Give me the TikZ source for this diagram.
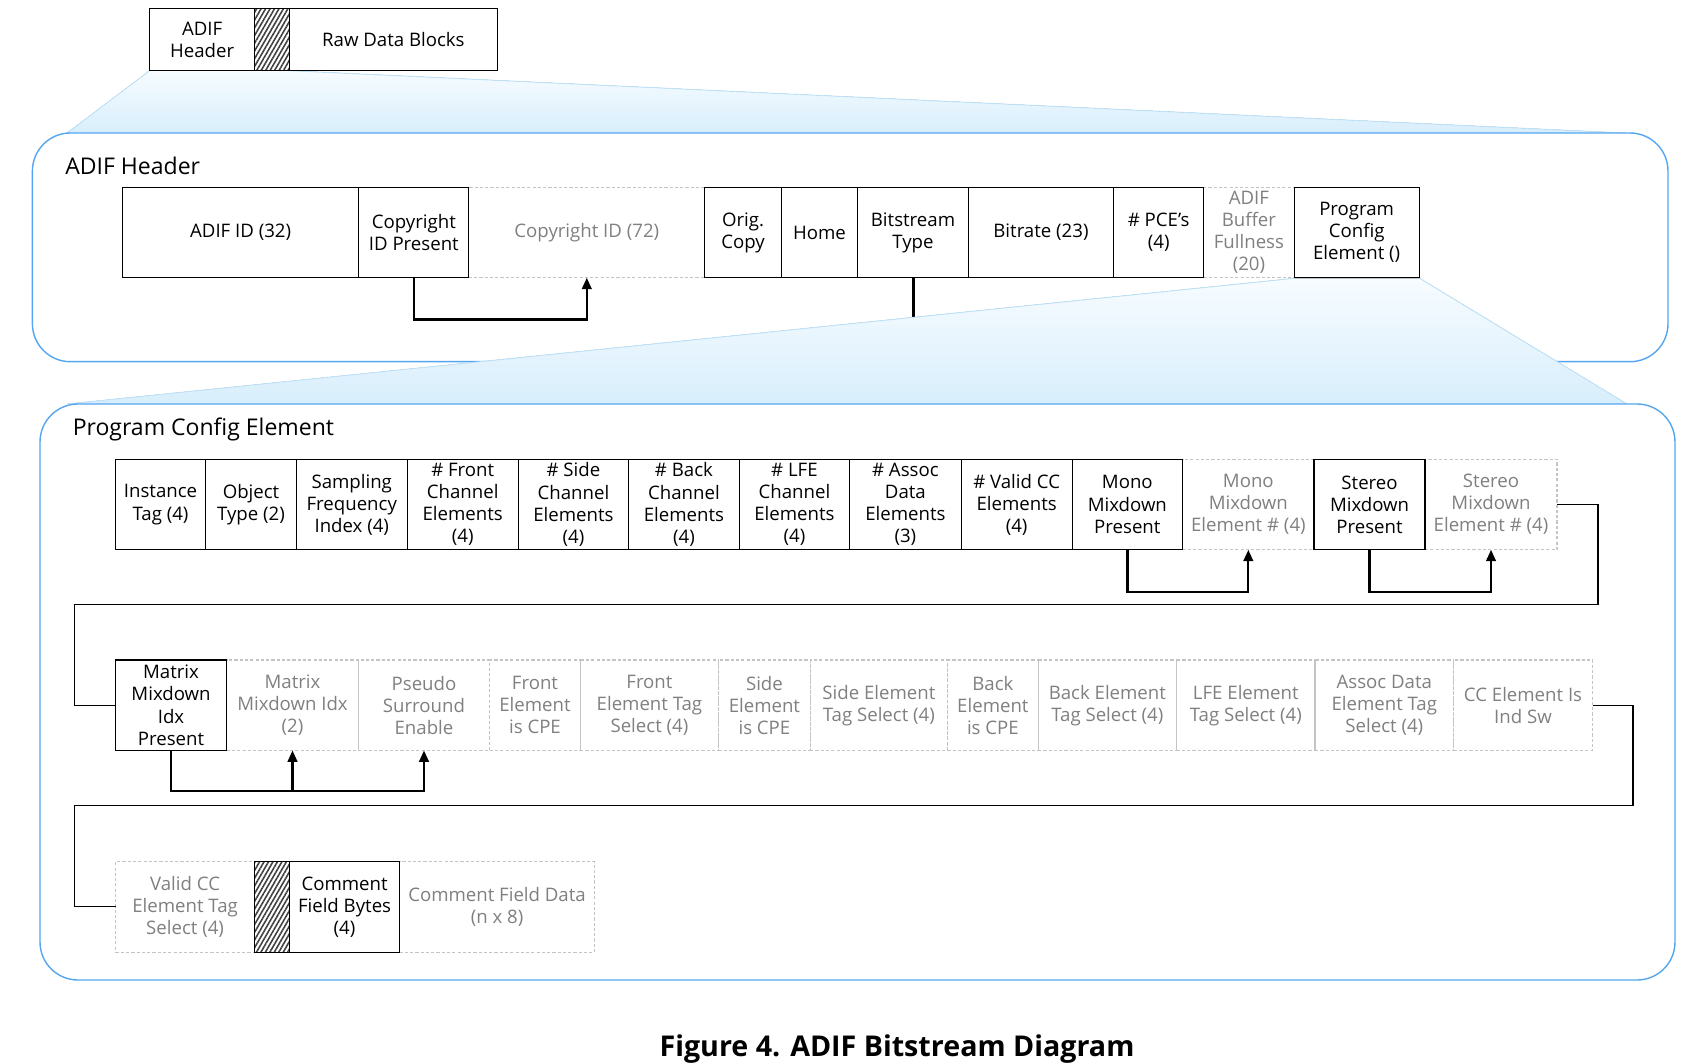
\documentclass[tikz,border=0pt]{standalone}
\usepackage{fontspec}
\setmainfont{Open Sans}
\usetikzlibrary{positioning,arrows.meta,patterns.meta}

\definecolor{panelblue}{RGB}{84,166,240}
\definecolor{zoomline}{RGB}{190,226,248}
\definecolor{zoomtop}{RGB}{247,252,255}
\definecolor{zoombot}{RGB}{216,238,252}
\definecolor{optline}{RGB}{196,196,196}
\definecolor{opttext}{RGB}{128,128,128}

\newcommand{\boxfont}{\fontsize{10.6}{12.6}\selectfont}

\begin{document}
\begin{tikzpicture}[x=0.02cm,y=-0.02cm]
        \tikzstyle{field}=[draw,line width=0.7pt,inner sep=0pt,outer sep=0pt,minimum height=1.81cm,align=center,font=\boxfont]
        \tikzstyle{opt}=[field,draw=optline,dash pattern=on 1.8pt off 1.2pt,text=opttext]
        \tikzstyle{hatchbox}=[field,pattern={Lines[angle=60,distance=2.2pt,line width=0.9pt]},pattern color=black!75]
        \tikzstyle{frame}=[line width=0.7pt]
        \tikzstyle{panel}=[draw=panelblue,line width=0.8pt,fill=white,rounded corners=0.76cm]
        \tikzstyle{zoom}=[top color=zoomtop,bottom color=zoombot]
        \tikzstyle{zoomedge}=[draw=zoomline,line width=0.5pt]
        \tikzstyle{flag}=[line width=1.3pt,-{Triangle[length=6.5pt,width=5.5pt]}]
        \tikzstyle{wrap}=[line width=0.6pt]
        \tikzstyle{title}=[anchor=west,inner sep=0pt,font=\fontsize{13.1}{15.5}\selectfont]

        \useasboundingbox (0,0) rectangle (1695,1064);

        % zoom from the stream to the header
        \fill[zoom] (149.7,70.7) -- (289.4,70.7) -- (1625,133) -- (67,133) -- cycle;
        \draw[zoomedge] (149.7,70.7) -- (67,133);
        \draw[zoomedge] (289.4,70.7) -- (1625,133);
        \draw[panel] (32.4,133) rectangle (1668,361.7);
        \node[title] (hdrtitle) at (65,165.5) {ADIF Header};

        % bitstream type marker, cut by the next zoom
        \draw[line width=1.3pt] (913.4,278) -- (913.4,317);

        % zoom from the header to the PCE
        \fill[zoom] (1294.6,278.3) -- (1419.6,278.3) -- (1627,404) -- (67,404) -- cycle;
        \draw[zoomedge] (1294.6,278.3) -- (67,404);
        \draw[zoomedge] (1419.6,278.3) -- (1627,404);
        \draw[panel] (40,404) rectangle (1675,980);
        \node[title] (pcetitle) at (72.4,429.5) {Program Config Element};

        % stream
        \node[field,minimum height=1.25cm,minimum width=2.10cm,anchor=north west] (adifhdr) at (149.7,8.3) {ADIF\\Header};
        \node[hatchbox,minimum height=1.25cm,minimum width=0.70cm,right=0pt of adifhdr] (hatcha) {};
        \node[field,minimum height=1.25cm,minimum width=4.15cm,right=0pt of hatcha] (raw) {Raw Data Blocks};

        % header row
        \node[field,minimum width=4.73cm,anchor=north west] (adifid) at (122.4,187.3) {ADIF ID (32)};
        \node[field,minimum width=2.20cm,right=0pt of adifid] (cpres) {Copyright\\ID Present};
        \node[opt,minimum width=4.72cm,right=0pt of cpres] (cid) {Copyright ID (72)};
        \node[field,minimum width=1.53cm,right=0pt of cid] (orig) {Orig.\\Copy};
        \node[field,minimum width=1.53cm,right=0pt of orig] (home) {Home};
        \node[field,minimum width=2.21cm,right=0pt of home] (bst) {Bitstream\\Type};
        \node[field,minimum width=2.91cm,right=0pt of bst] (brate) {Bitrate (23)};
        \node[field,minimum width=1.80cm,right=0pt of brate] (npce) {\# PCE’s\\(4)};
        \node[opt,minimum width=1.81cm,right=0pt of npce] (abf) {ADIF\\Buffer\\Fullness\\(20)};
        \node[field,minimum width=2.50cm,right=0pt of abf] (pcfg) {Program\\Config\\Element ()};

        % PCE row 1
        \node[field,minimum width=1.81cm,anchor=north west] (itag) at (115.3,459.3) {Instance\\Tag (4)};
        \node[field,minimum width=1.81cm,right=0pt of itag] (otype) {Object\\Type (2)};
        \node[field,minimum width=2.22cm,right=0pt of otype] (sfi) {Sampling\\Frequency\\Index (4)};
        \node[field,minimum width=2.22cm,right=0pt of sfi] (nfront) {\# Front\\Channel\\Elements\\(4)};
        \node[field,minimum width=2.21cm,right=0pt of nfront] (nside) {\# Side\\Channel\\Elements\\(4)};
        \node[field,minimum width=2.21cm,right=0pt of nside] (nback) {\# Back\\Channel\\Elements\\(4)};
        \node[field,minimum width=2.21cm,right=0pt of nback] (nlfe) {\# LFE\\Channel\\Elements\\(4)};
        \node[field,minimum width=2.23cm,right=0pt of nlfe] (nassoc) {\# Assoc\\Data\\Elements\\(3)};
        \node[field,minimum width=2.22cm,right=0pt of nassoc] (nvcc) {\# Valid CC\\Elements\\(4)};
        \node[field,minimum width=2.21cm,right=0pt of nvcc] (monop) {Mono\\Mixdown\\Present};
        \node[opt,minimum width=2.63cm,right=0pt of monop] (monoe) {Mono\\Mixdown\\Element \# (4)};
        \node[field,minimum width=2.22cm,right=0pt of monoe] (sterp) {Stereo\\Mixdown\\Present};
        \node[opt,minimum width=2.64cm,right=0pt of sterp] (stere) {Stereo\\Mixdown\\Element \# (4)};

        % PCE row 2
        \node[field,minimum width=2.23cm,anchor=north west] (mtxp) at (115.3,660) {Matrix\\Mixdown\\Idx\\Present};
        \node[opt,minimum width=2.63cm,right=0pt of mtxp] (mtxi) {Matrix\\Mixdown Idx\\(2)};
        \node[opt,minimum width=2.63cm,right=0pt of mtxi] (pseudo) {Pseudo\\Surround\\Enable};
        \node[opt,minimum width=1.81cm,right=0pt of pseudo] (fcpe) {Front\\Element\\is CPE};
        \node[opt,minimum width=2.77cm,right=0pt of fcpe] (ftag) {Front\\Element Tag\\Select (4)};
        \node[opt,minimum width=1.83cm,right=0pt of ftag] (scpe) {Side\\Element\\is CPE};
        \node[opt,minimum width=2.75cm,right=0pt of scpe] (stag) {Side Element\\Tag Select (4)};
        \node[opt,minimum width=1.81cm,right=0pt of stag] (bcpe) {Back\\Element\\is CPE};
        \node[opt,minimum width=2.77cm,right=0pt of bcpe] (btag) {Back Element\\Tag Select (4)};
        \node[opt,minimum width=2.77cm,right=0pt of btag] (ltag) {LFE Element\\Tag Select (4)};
        \node[opt,minimum width=2.77cm,right=0pt of ltag] (atag) {Assoc Data\\Element Tag\\Select (4)};
        \node[opt,minimum width=2.78cm,right=0pt of atag] (ccsw) {CC Element Is\\Ind Sw};

        % PCE row 3
        \node[opt,minimum width=2.78cm,anchor=north west] (vcc) at (115.6,861.7) {Valid CC\\Element Tag\\Select (4)};
        \node[hatchbox,minimum width=0.70cm,right=0pt of vcc] (hatchb) {};
        \node[field,minimum width=2.20cm,right=0pt of hatchb] (cfb) {Comment\\Field Bytes\\(4)};
        \node[opt,minimum width=3.90cm,right=0pt of cfb] (cfd) {Comment Field Data\\(n x 8)};

        % solid edges over the dashed ones
        \foreach \b in {cpres,orig,npce,pcfg,monop,sterp,mtxp,hatchb,cfb}
          \draw[frame] (\b.north west) rectangle (\b.south east);

        % presence flags
        \draw[flag] (cpres.south) -- ++(0,41.7) -| (cid.south);
        \draw[flag] (monop.south) -- ++(0,42) -| (monoe.south);
        \draw[flag] (sterp.south) -- ++(0,42) -| (stere.south);
        \draw[flag] (mtxp.south) -- ++(0,40.3) coordinate (mtxj) -| (pseudo.south);
        \draw[flag] (mtxj) -| (mtxi.south);

        % row wraps
        \coordinate (w1) at (1598,604.3);
        \coordinate (w2) at (74.3,604.3);
        \coordinate (w3) at (1633,805.5);
        \coordinate (w4) at (74.6,805.5);
        \draw[wrap] (stere.east) -| (w1) -- (w2) |- (mtxp.west);
        \draw[wrap] (ccsw.east) -| (w3) -- (w4) |- (vcc.west);

        \node[font=\bfseries\fontsize{16.3}{19}\selectfont] (caption) at (897,1049) {Figure 4. ADIF Bitstream Diagram};
\end{tikzpicture}
\end{document}
